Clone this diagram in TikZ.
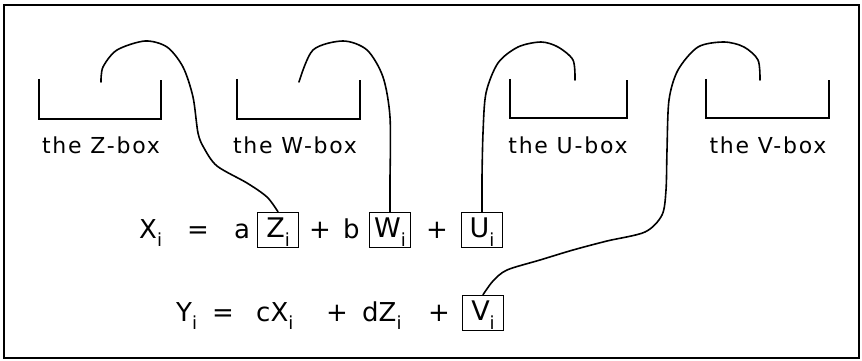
\documentclass[tikz,border=0pt]{standalone}
\usepackage{fontspec}
\setmainfont{DejaVu Sans}
\newfontfamily\lblfont[LetterSpace=8]{DejaVu Sans}
\usetikzlibrary{positioning}
\newcommand\ix{\raisebox{-0.6ex}{\fontsize{18}{18}\selectfont i}}
\tikzset{
  wire/.style={line width=1.6pt,line cap=round,line join=round},
  bracket/.style={line width=1.5pt},
  lbl/.style={font=\lblfont\fontsize{22}{24}\selectfont,inner sep=0pt,anchor=base},
  eqtxt/.style={font=\fontsize{26}{28}\selectfont,inner sep=0pt,anchor=base west},
  varbox/.style={draw,line width=1.4pt,minimum width=41pt,minimum height=35pt,inner sep=0pt,
    text height=19pt,text depth=4pt,font=\fontsize{27}{29}\selectfont}
}

\begin{document}
\begin{tikzpicture}[x=1pt,y=-1pt]
  \useasboundingbox (0,0) rectangle (862,361);
  \draw[line width=1.6pt] (4,5) rectangle (859,358);

  % the four boxes
  \draw[bracket] (39,79) |- (161,119) -- (161,80);
  \draw[bracket] (237,79) |- (360,119) -- (360,80);
  \draw[bracket] (510,79) |- (627,118) -- (627,80);
  \draw[bracket] (706,79) |- (829,118) -- (829,80);
  \node[lbl] (zlbl) at (101,153) {the Z-box};
  \node[lbl] (wlbl) at (295,153) {the W-box};
  \node[lbl] (ulbl) at (568,153) {the U-box};
  \node[lbl] (vlbl) at (768,153) {the V-box};

  \coordinate (zs) at (101,82);
  \coordinate (ws) at (299,82);
  \coordinate (us) at (575,80);
  \coordinate (vs) at (760,80);

  % first equation
  \node[eqtxt] (xi) at (139,238) {X\ix};
  \node[eqtxt] (eq1) at (187,238) {=};
  \node[eqtxt] (ca) at (234,238) {a};
  \node[varbox] (zbox) at (278,230) {Z\ix};
  \node[eqtxt] (p1) at (309,238) {+};
  \node[eqtxt] (cb) at (343,238) {b};
  \node[varbox] (wbox) at (390,230) {W\ix};
  \node[eqtxt] (p2) at (426,238) {+};
  \node[varbox] (ubox) at (482,230) {U\ix};

  % second equation
  \node[eqtxt] (yi) at (176,321) {Y\ix};
  \node[eqtxt] (eq2) at (212,321) {=};
  \node[eqtxt] (cx) at (256,321) {cX\ix};
  \node[eqtxt] (p3) at (326,321) {+};
  \node[eqtxt] (dz) at (362,321) {dZ\ix};
  \node[eqtxt] (p4) at (428,321) {+};
  \node[varbox] (vbox) at (483,313) {V\ix};

  % strings from the boxes
  \draw[wire] plot[smooth] coordinates {(zs) (103,67) (117,50) (145,41) (167,47) (183,67) (193,97)
    (198,133) (204,148) (217,166) (247,183) (267,197) (zbox.north)};
  \draw[wire] plot[smooth] coordinates {(ws) (313,50) (343,41) (367,50) (383,77) (390,117) (390,177)}
    -- (wbox.north);
  \draw[wire] plot[smooth] coordinates {(us) (573,60) (558,47) (541,42) (518,47) (498,63) (486,93)
    (483,133) (482,177)} -- (ubox.north);
  \draw[wire] plot[smooth] coordinates {(vs) (758,60) (744,47) (724,42) (698,47) (678,70) (669,100)
    (667,150) (666,190) (662,215) (645,232) (607,241) (573,250) (540,260) (507,270) (493,281)
    (vbox.north)};
\end{tikzpicture}
\end{document}
